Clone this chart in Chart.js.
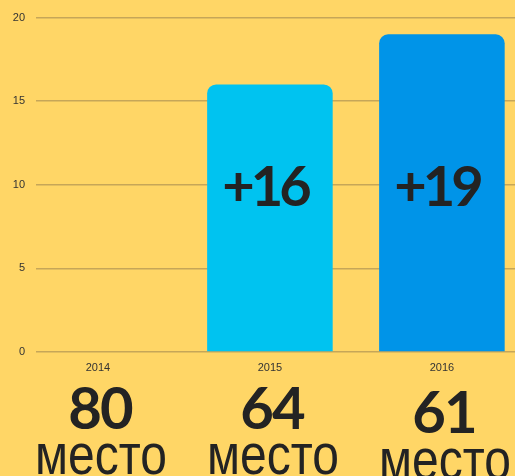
<!DOCTYPE html>
<html>
<head>
<meta charset="utf-8">
<script src="https://cdn.jsdelivr.net/npm/chart.js@4/dist/chart.umd.min.js"></script>
<style>
  html, body { margin: 0; padding: 0; background: #FFD666; overflow: hidden; }
  #wrap { width: 515px; height: 476px; position: relative; }
</style>
</head>
<body>
<div id="wrap"><canvas id="myChart" width="515" height="476"></canvas></div>
<script>
// chart values
const years = ['2014', '2015', '2016'];
const gains = [0, 16, 19];
const gainLabels = ['', '+16', '+19'];
const ranks = ['80', '64', '61'];
const rankWord = 'место';
const yTicks = [0, 5, 10, 15, 20];
const barColors = ['#00C3F0', '#00C3F0', '#0094E8'];

const textColor = '#232323';

// draws the +N labels in the bars and the rank text below the axis
const rankPlugin = {
    id: 'rankText',
    afterDraw: function(chart) {
        const ctx = chart.ctx;
        const x = chart.scales.x;
        const y = chart.scales.y;
        ctx.save();
        ctx.fillStyle = textColor;
        ctx.textAlign = 'center';
        ctx.textBaseline = 'alphabetic';
        years.forEach(function(yr, i) {
            const px = x.getPixelForValue(i);
            const drop = i == 2 ? 4 : 0;
            if (gainLabels[i]) {
                ctx.font = 'bold 56px Lato';
                ctx.letterSpacing = '-4px';
                ctx.fillText(gainLabels[i], px - 5, y.getPixelForValue(10) + 21);
            }
            ctx.font = 'bold 58px Lato';
            ctx.letterSpacing = '-2px';
            ctx.fillText(ranks[i], px + 2, 429 + drop);
            // word is a bit taller than the font, stretch it
            ctx.font = '48px "Liberation Sans"';
            ctx.letterSpacing = '0px';
            ctx.save();
            ctx.translate(px + 3, 474 + drop * 1.25);
            ctx.scale(1, 1.18);
            ctx.fillText(rankWord, 0, 0);
            ctx.restore();
        });
        ctx.restore();
    }
};

const ctx = document.getElementById('myChart').getContext('2d');
const myChart = new Chart(ctx, {
    type: 'bar',
    data: {
        datasets: [{
            data: gains.map(function(v, i) { return { x: i, y: v }; }),
            backgroundColor: barColors,
            borderRadius: { topLeft: 9, topRight: 9 },
            borderSkipped: 'bottom',
            barPercentage: 0.73,
            categoryPercentage: 1
        }]
    },
    plugins: [rankPlugin],
    options: {
        responsive: false,
        animation: false,
        layout: { padding: { top: 17, right: 0, left: 0, bottom: 0 } },
        plugins: { legend: { display: false }, tooltip: { enabled: false } },
        scales: {
            x: {
                type: 'linear',
                offset: false,
                min: -0.36,
                max: 2.425,
                grid: { display: false },
                border: { display: false },
                afterFit: function(s) { s.height = 124; },
                afterBuildTicks: function(s) { s.ticks = years.map(function(v, i) { return { value: i }; }); },
                ticks: {
                    padding: 1,
                    color: '#333',
                    font: { family: 'Liberation Sans', size: 11 },
                    callback: function(v) { return years[v]; }
                }
            },
            y: {
                min: 0,
                max: 20,
                afterFit: function(s) { s.width = 36; },
                afterBuildTicks: function(s) { s.ticks = yTicks.map(function(v) { return { value: v }; }); },
                grid: { color: '#C6A658', lineWidth: 1.5, drawTicks: false },
                border: { display: false },
                ticks: {
                    padding: 11,
                    color: '#333',
                    font: { family: 'Liberation Sans', size: 11 }
                }
            }
        }
    }
});
</script>
</body>
</html>
